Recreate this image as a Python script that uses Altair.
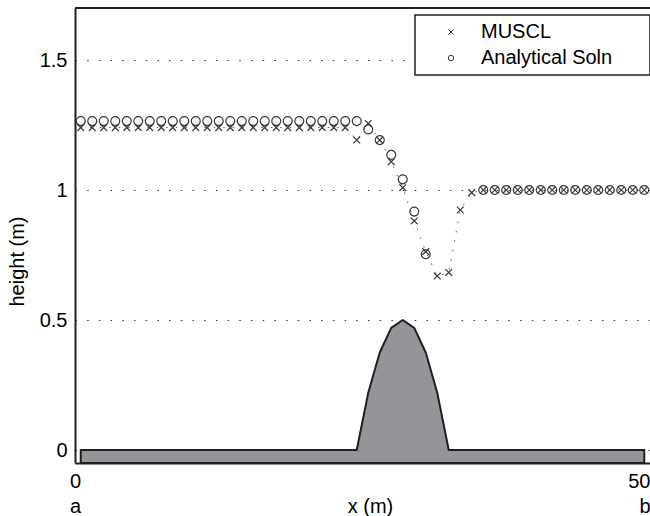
import altair as alt
import pandas as pd

# ---- data ----
x_cells = [0.5 + i for i in range(50)]  # cell centres, dx = 1 m

muscl_h = [1.24] * 24 + [1.192, 1.256, 1.192, 1.109, 1.009, 0.881, 0.763,
                         0.669, 0.683, 0.923, 0.99] + [1.0] * 15
analytic_h = [1.265] * 25 + [1.233, 1.192, 1.135, 1.041, 0.917, 0.753] + \
             [None] * 4 + [1.0] * 15

bed_x = [0.5, 24.5, 25.5, 26.5, 27.5, 28.5, 29.5, 30.5, 31.5, 32.5, 49.5]
bed_z = [0.0, 0.0, 0.22, 0.375, 0.47, 0.5, 0.47, 0.375, 0.22, 0.0, 0.0]

series_names = ["MUSCL", "Analytical Soln"]
x_ticks = [0, 50]
x_sub = ["a", "b"]
y_ticks = [0, 0.5, 1, 1.5]
x_dom = [0, 50]
y_dom = [-0.05, 1.7]

FONT = "Liberation Sans"
DARK = "#231f20"
MARK = "#3a3a3a"

# ---- tables ----
muscl_df = pd.DataFrame({"x": x_cells, "h": muscl_h, "series": series_names[0]})
an_rows = [{"x": x, "h": a, "series": series_names[1]}
           for x, a in zip(x_cells, analytic_h) if a is not None]
an_df = pd.DataFrame(an_rows)
bed_df = pd.DataFrame({"x": bed_x, "z": bed_z})

xscale = alt.Scale(domain=x_dom, nice=False, zero=False)
yscale = alt.Scale(domain=y_dom, nice=False, zero=False)

lab_expr = " : ".join(
    f"datum.value == {v} ? ['{v}', '{s}']" for v, s in zip(x_ticks, x_sub)
) + " : ''"

xaxis = alt.Axis(values=x_ticks, labelExpr=lab_expr, labelFlush=False,
                 grid=False, ticks=False, labelBaseline="top",
                 labelAlign=alt.condition(f"datum.value == {x_ticks[-1]}",
                                          alt.value("right"), alt.value("center")),
                 labelLineHeight=25, labelPadding=8,
                 titleX=295, titleY=49, titleBaseline="alphabetic",
                 titleAnchor="start", titleAlign="center")
yaxis = alt.Axis(values=y_ticks, format="~g", grid=True, ticks=False,
                 labelPadding=8, titleAngle=270, titleX=-48, titleY=253,
                 titleBaseline="bottom", titleAlign="center", titleAnchor="start")

cross_path = "M-1,-1L1,1M-1,1L1,-1"
shape_scale = alt.Scale(domain=series_names, range=[cross_path, "circle"])

bed = alt.Chart(bed_df).mark_area(
    color="#939598", stroke=DARK, strokeWidth=2, strokeJoin="round"
).encode(
    x=alt.X("x:Q", scale=xscale, axis=xaxis, title="x (m)"),
    y=alt.Y("z:Q", scale=yscale, axis=yaxis, title="height (m)"),
    y2=alt.datum(y_dom[0]),
)

line = alt.Chart(muscl_df).mark_line(
    color="#555555", strokeWidth=1, strokeDash=[1.5, 8]
).encode(x=alt.X("x:Q", scale=xscale), y=alt.Y("h:Q", scale=yscale))

legend = alt.Legend(
    title=None, orient="none", legendX=340, legendY=7,
    fillColor="white", strokeColor=DARK, padding=7,
    labelFontSize=20, labelFont=FONT, labelColor="black", labelLimit=400,
    symbolSize=30, symbolStrokeWidth=1, symbolStrokeColor=MARK,
    symbolFillColor="transparent", symbolOffset=19, labelOffset=20,
    rowPadding=6,
    labelExpr="datum.label + '\u2800\u2800'",
)

pts_m = alt.Chart(muscl_df).mark_point(
    filled=False, strokeWidth=1.2, color=MARK, opacity=1, size=45
).encode(
    x=alt.X("x:Q", scale=xscale),
    y=alt.Y("h:Q", scale=yscale),
    shape=alt.Shape("series:N", scale=shape_scale, legend=legend),
)

pts_a = alt.Chart(an_df).mark_point(
    filled=False, strokeWidth=1.2, color=MARK, opacity=1, size=80
).encode(
    x=alt.X("x:Q", scale=xscale),
    y=alt.Y("h:Q", scale=yscale),
    shape=alt.Shape("series:N", scale=shape_scale, legend=legend),
)

toprule = alt.Chart(pd.DataFrame({"t": [y_dom[1]]})).mark_rule(
    color=DARK, strokeWidth=2
).encode(y=alt.Y("t:Q", scale=yscale))

chart = alt.layer(bed, line, pts_m, pts_a, toprule).properties(
    width=575, height=455,
    autosize=alt.AutoSizeParams(type="none"),
    padding={"left": 75, "top": 8, "right": 0, "bottom": 53},
    background="white",
).configure_view(stroke=None).configure_axis(
    labelFont=FONT, titleFont=FONT, labelFontSize=20, titleFontSize=20,
    labelColor="black", titleColor="black", titleFontWeight="normal",
    domainColor=DARK, domainWidth=2,
    gridColor="#333333", gridWidth=1, gridDash=[1.5, 10.2], gridOpacity=1,
).configure_legend(strokeWidth=1.5)

chart.save("out.html", embed_options={"renderer": "svg", "actions": False})
